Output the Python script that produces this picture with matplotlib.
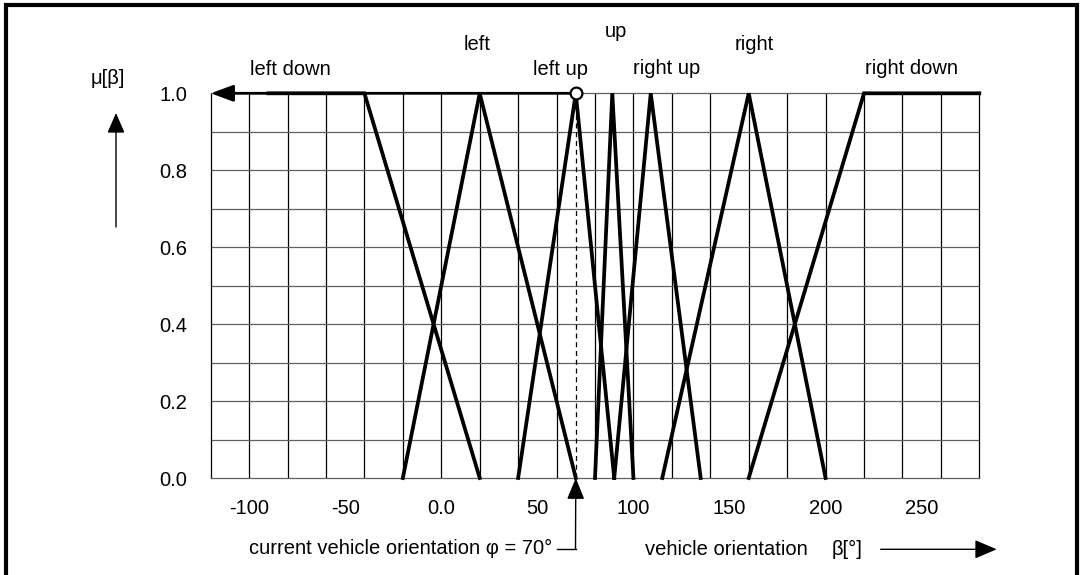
import numpy as np
import matplotlib.pyplot as plt
from matplotlib.lines import Line2D
from matplotlib.patches import Rectangle

plt.rcParams['font.family'] = ['Liberation Sans', 'DejaVu Sans']

# fuzzy sets for the vehicle orientation beta, breakpoints
names = ['left down', 'left', 'left up', 'up', 'right up', 'right', 'right down']
mf_beta = [
    [-90, -40, 20],
    [-20, 20, 70],
    [40, 70, 90],
    [80, 89, 100],
    [90, 109, 135],
    [115, 160, 200],
    [160, 220, 280],
]
mf_mu = [
    [1, 1, 0],
    [0, 1, 0],
    [0, 1, 0],
    [0, 1, 0],
    [0, 1, 0],
    [0, 1, 0],
    [0, 1, 1],
]
phi = 70  # current vehicle orientation
x_ticks = [-100, -50, 0, 50, 100, 150, 200, 250]
x_tick_labels = ['-100', '-50', '0.0', '50', '100', '150', '200', '250']
y_ticks = [0.0, 0.2, 0.4, 0.6, 0.8, 1.0]

W, H = 1083, 575
FS = 14.5


def fx(px):
    return px / W


def fy(py):
    # py measured from the top of the image
    return 1 - py / H


fig = plt.figure(figsize=(W / 100, H / 100), dpi=100)
ax = fig.add_axes([fx(210.7), fy(478), (979.3 - 210.7) / W, (478 - 93.3) / H])

ax.set_xlim(-120, 280)
ax.set_ylim(0, 1)
ax.set_xticks(x_ticks)
ax.set_xticklabels(x_tick_labels)
ax.set_yticks(y_ticks)
ax.set_yticklabels([f'{v:.1f}' for v in y_ticks])
ax.tick_params(which='both', length=0)
ax.tick_params(axis='x', pad=15, labelsize=FS)
ax.tick_params(axis='y', pad=17, labelsize=FS)

# grid: every 20 degrees and every 0.1
ax.vlines(np.arange(-100, 280, 20), 0, 1, color='black', lw=0.9, zorder=1)
ax.hlines(np.arange(0.1, 0.95, 0.1), -120, 280, color='#606060', lw=0.9, zorder=1)
for side in ['left', 'right']:
    ax.spines[side].set_color('black')
    ax.spines[side].set_linewidth(0.9)
for side in ['top', 'bottom']:
    ax.spines[side].set_color('#606060')
    ax.spines[side].set_linewidth(0.9)

# membership functions
for b, m in zip(mf_beta, mf_mu):
    ax.plot(b, m, color='black', lw=2.7, solid_joinstyle='miter', clip_on=False, zorder=3)

# pointer at mu = 1 from the current orientation to the left
ax.annotate('', xy=(-120, 1), xytext=(phi, 1), annotation_clip=False,
            arrowprops=dict(arrowstyle='-|>,head_length=0.68,head_width=0.25',
                            mutation_scale=20, color='black', lw=2,
                            shrinkA=0, shrinkB=0), zorder=3)
ax.plot([phi, phi], [0, 1], color='black', lw=0.9, ls=(0, (4, 3)), zorder=2)
ax.plot(phi, 1, 'o', ms=8.5, mfc='white', mec='black', mew=1.6, clip_on=False, zorder=5)

# set names
label_pos = {
    'left down': (-78.6, 1.048),
    'left': (18.5, 1.113),
    'left up': (61.9, 1.048),
    'up': (91.1, 1.146),
    'right up': (117.1, 1.050),
    'right': (162.9, 1.113),
    'right down': (244.9, 1.050),
}
for name in names:
    x, y = label_pos[name]
    ax.text(x, y, name, ha='center', va='baseline', fontsize=FS, clip_on=False)

# y axis caption with arrow
fig.text(fx(108), fy(84), 'μ[β]', ha='center', va='baseline', fontsize=FS)
ax.annotate('', xy=(fx(116), fy(113)), xycoords='figure fraction',
            xytext=(fx(116), fy(227)), textcoords='figure fraction',
            arrowprops=dict(arrowstyle='-|>,head_length=0.62,head_width=0.27',
                            mutation_scale=20, color='black', lw=1,
                            shrinkA=0, shrinkB=0))

# current orientation marker below the axis
fig.text(fx(552), fy(553.5), 'current vehicle orientation φ = 70°',
         ha='right', va='baseline', fontsize=FS)
fig.add_artist(Line2D([fx(556.5), fx(575.5)], [fy(549.3), fy(549.3)],
                      transform=fig.transFigure, color='black', lw=1))
ax.annotate('', xy=(phi, 0), xycoords='data',
            xytext=(fx(575.5), fy(549.3)), textcoords='figure fraction',
            annotation_clip=False,
            arrowprops=dict(arrowstyle='-|>,head_length=0.66,head_width=0.27',
                            mutation_scale=20, color='black', lw=1,
                            shrinkA=0, shrinkB=0))

# x axis caption with arrow
fig.text(fx(645), fy(555), 'vehicle orientation', ha='left', va='baseline', fontsize=FS)
fig.text(fx(831.5), fy(555), 'β[°]', ha='left', va='baseline', fontsize=FS)
ax.annotate('', xy=(fx(996.7), fy(549.3)), xycoords='figure fraction',
            xytext=(fx(880.7), fy(549.3)), textcoords='figure fraction',
            arrowprops=dict(arrowstyle='-|>,head_length=0.68,head_width=0.29',
                            mutation_scale=20, color='black', lw=1,
                            shrinkA=0, shrinkB=0))

# heavy frame around the figure
fig.add_artist(Rectangle((fx(6), -0.05), fx(1077) - fx(6), fy(5) + 0.05,
                         transform=fig.transFigure, fill=False,
                         edgecolor='black', lw=3))

fig.savefig('out.png', dpi=100)
